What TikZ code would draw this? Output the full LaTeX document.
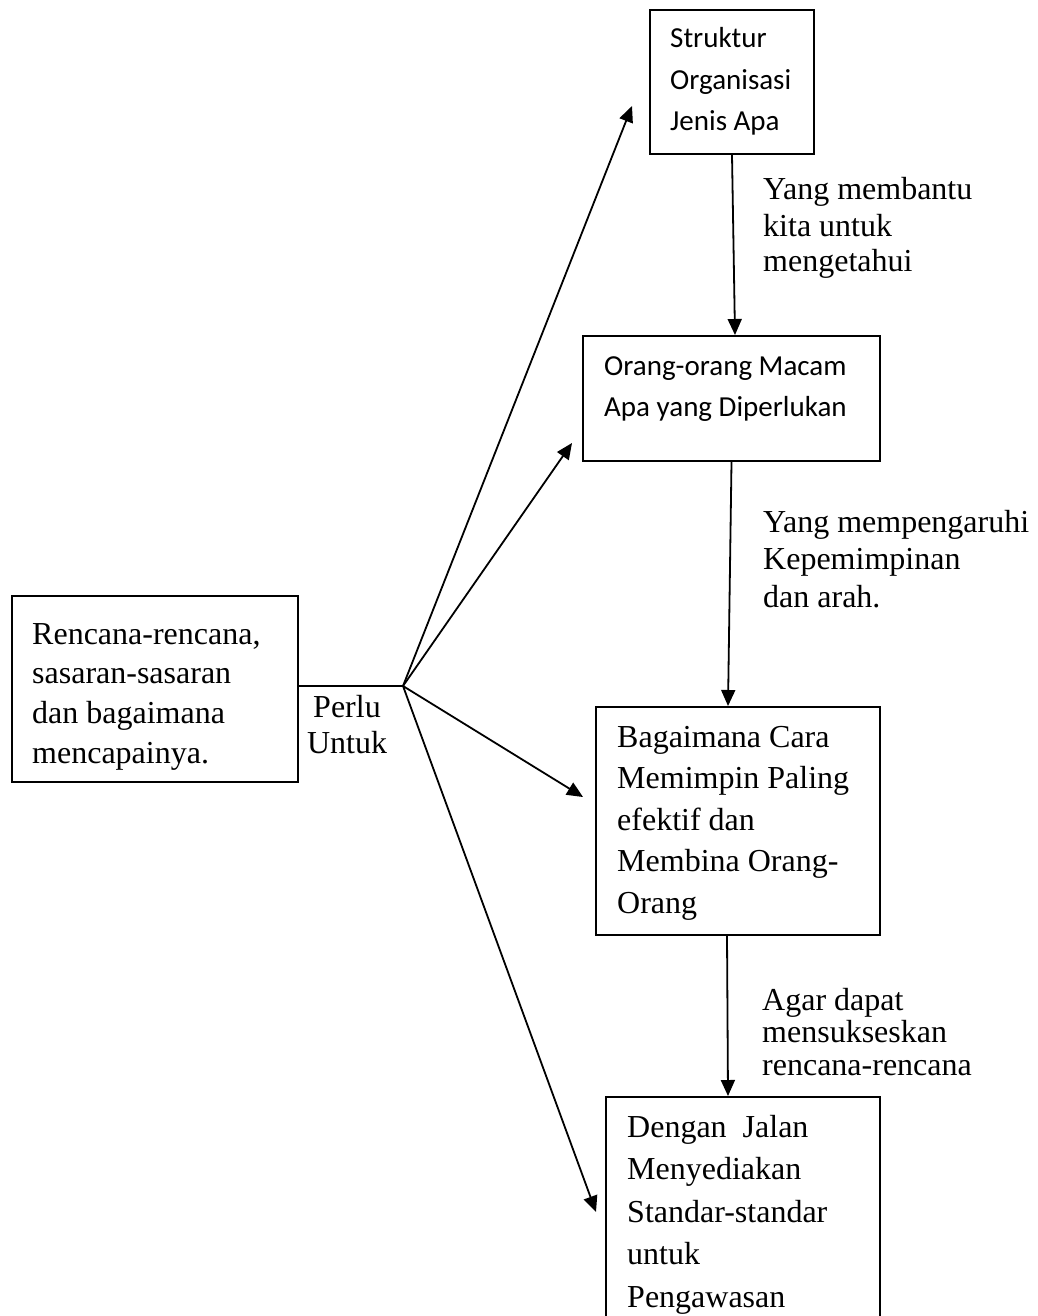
\documentclass[tikz,border=0pt]{standalone}
\usepackage{fontspec}
\setmainfont{Liberation Serif}
\newfontfamily\calfont{Carlito}
\usetikzlibrary{arrows.meta}
\tikzset{
  box/.style={draw, line width=2pt, inner sep=0pt},
  tb/.style={anchor=base west, inner sep=0pt},
  arr/.style={-{Triangle[length=16pt,width=14pt]}, line width=1.8pt},
  ln/.style={line width=1.8pt},
}
\newcommand{\serifblock}[3]{\parbox[t]{#1pt}{\raggedright\fontsize{32}{#2}\selectfont #3}}
\newcommand{\sansblock}[2]{\parbox[t]{#1pt}{\raggedright\calfont\fontsize{29}{41.5}\selectfont #2}}
\begin{document}
\begin{tikzpicture}[x=1pt,y=-1pt]
\useasboundingbox (0,0) rectangle (1037,1316);
% boxes
\node[box, minimum width=286, minimum height=186] (L) at (155,689) {};
\node[box, minimum width=164, minimum height=144] (b1) at (732,82) {};
\node[box, minimum width=297, minimum height=125] (b2) at (731.5,398.5) {};
\node[box, minimum width=284, minimum height=228] (b3) at (738,821) {};
\node[box, minimum width=274, minimum height=240] (b4) at (743,1217) {};
% texts in boxes
\node[tb] (tL) at (32,644) {\serifblock{270}{39.7}{Rencana-rencana,\\sasaran-sasaran\\dan bagaimana\\mencapainya.}};
\node[tb] (t1) at (670,48) {\sansblock{150}{Struktur\\Organisasi\\Jenis Apa}};
\node[tb] (t2) at (604,375) {\sansblock{280}{Orang-orang Macam\\Apa yang Diperlukan}};
\node[tb] (t3) at (617,747) {\serifblock{270}{41.5}{Bagaimana Cara\\Memimpin Paling\\efektif dan\\Membina Orang-\\Orang}};
\node[tb] (t4) at (627,1137) {\serifblock{260}{42.5}{Dengan\ \ Jalan\\Menyediakan\\Standar-standar\\untuk\\Pengawasan}};
% labels
\node[tb] (l1) at (763,200) {\serifblock{280}{36}{Yang membantu\\kita untuk\\mengetahui}};
\node[tb] (l2) at (763,532) {\serifblock{280}{37.5}{Yang mempengaruhi\\Kepemimpinan\\dan arah.}};
\node[tb] (l3) at (762,1010) {\serifblock{280}{32.5}{Agar dapat\\mensukseskan\\rencana-rencana}};
\node[anchor=base, inner sep=0pt] (pu) at (347,717) {\parbox[t]{100pt}{\centering\fontsize{32}{36}\selectfont Perlu\\Untuk}};
% junction and arrow ends
\coordinate (j) at (403,686);
\coordinate (e1) at (632,106);
\coordinate (e2) at (572,443);
\coordinate (e3) at (583,797);
\coordinate (e4) at (596,1212);
\draw[ln] (j -| L.east) -- (j);
\draw[arr] (j) -- (e1);
\draw[arr] (j) -- (e2);
\draw[arr] (j) -- (e3);
\draw[arr] (j) -- (e4);
% vertical arrows
\draw[arr] (b1.south) -- ([xshift=3.5pt]b2.north);
\draw[arr] (b2.south) -- ([xshift=-10pt]b3.north);
\draw[arr] ([xshift=-11pt]b3.south) -- ([xshift=-15pt]b4.north);
\end{tikzpicture}
\end{document}
